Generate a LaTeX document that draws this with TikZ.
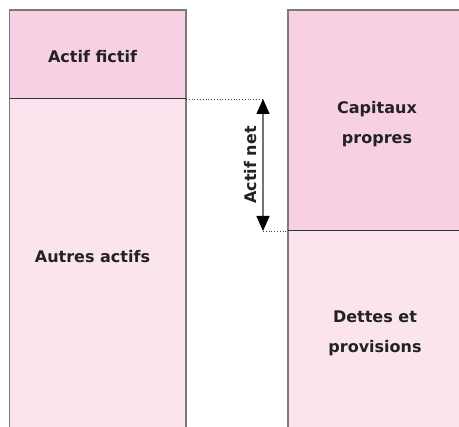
\documentclass[tikz,border=0pt]{standalone}
\usepackage{fontspec}
\setmainfont{DejaVu Sans}
\usetikzlibrary{arrows.meta}
\definecolor{pinkdark}{HTML}{F7D0E3}
\definecolor{pinklight}{HTML}{FBE4EE}
\definecolor{bordergray}{HTML}{7A7A7A}
\definecolor{txt}{HTML}{222222}
\begin{document}
\begin{tikzpicture}[x=1pt,y=-1pt,
  colborder/.style={draw=bordergray,line width=1.3pt},
  divider/.style={draw=black!80,line width=1pt},
  guide/.style={draw=black!75,dotted,line width=0.8pt},
  netarrow/.style={draw=black!55,line width=1.3pt,
    {Triangle[width=13pt,length=15pt,color=black]}-{Triangle[width=13pt,length=15pt,color=black]}},
  lbl/.style={font=\fontsize{16}{30}\selectfont\bfseries,text=txt,align=center,inner sep=0pt}]
\useasboundingbox (0,0) rectangle (459,427);
% left column
\fill[pinkdark] (9.5,10) rectangle (186,99);
\fill[pinklight] (9.5,99) rectangle (186,440);
\draw[colborder] (9.5,440) -- (9.5,10) -- (186,10) -- (186,440);
\coordinate (Ldiv) at (186,99);
\draw[divider] (9.5,99) -- (Ldiv);
% right column
\fill[pinkdark] (288,10) rectangle (470,231);
\fill[pinklight] (288,231) rectangle (470,440);
\draw[colborder] (288,440) -- (288,10) -- (470,10);
\coordinate (Rdiv) at (288,231);
\draw[divider] (Rdiv) -- (470,231);
% labels
\node[lbl,anchor=base] (fictif) at (92.5,62.5) {Actif fictif};
\node[lbl,anchor=base] (autres) at (92.5,263) {Autres actifs};
\node[lbl] (capitaux) at (377,124) {Capitaux\\propres};
\node[lbl] (dettes) at (375,333) {Dettes et\\provisions};
% actif net
\coordinate (Ntop) at (263,99);
\coordinate (Nbot) at (263,231);
\draw[guide] (Ldiv) -- (Ntop);
\draw[guide] (Nbot) -- (Rdiv);
\draw[netarrow] (Ntop) -- (Nbot);
\node[lbl,rotate=90] (net) at (251,165) {Actif net};
\end{tikzpicture}
\end{document}
